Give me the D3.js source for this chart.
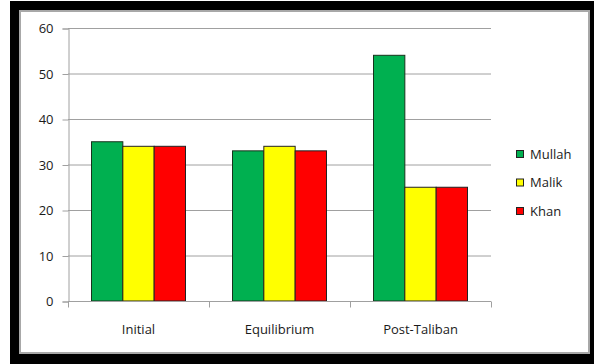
<!DOCTYPE html>
<html>
<head>
<meta charset="utf-8">
<script src="https://cdn.jsdelivr.net/npm/d3@7"></script>
<style>
  html, body { margin: 0; padding: 0; background: #fff; }
  svg { display: block; }
  text { font-family: "Open Sans", sans-serif; fill: #1a1a1a; }
</style>
</head>
<body>
<svg id="chart" width="594" height="364"></svg>
<script>
// Share of influence held by each group in each period
const categories = ["Initial", "Equilibrium", "Post-Taliban"];
const seriesNames = ["Mullah", "Malik", "Khan"];
const mullah = [35, 33, 54];
const malik  = [34, 34, 25];
const khan   = [34, 33, 25];
const yTicks = [0, 10, 20, 30, 40, 50, 60];
const colors = ["#00B050", "#FFFF00", "#FF0000"];
const strokes = ["#17331c", "#222", "#222"];
const FONT = "'Open Sans', sans-serif";

const values = [mullah, malik, khan];
const rows = categories.map((c, i) => ({
  category: c,
  items: seriesNames.map((s, j) => ({ series: s, value: values[j][i], idx: j }))
}));

const svg = d3.select("#chart");

// Outer black frame and inner panel
svg.append("rect").attr("x", 10).attr("y", 1).attr("width", 584).attr("height", 363).attr("fill", "#000");
svg.append("rect").attr("x", 19).attr("y", 10).attr("width", 571).attr("height", 344).attr("fill", "#a8a8a8");
svg.append("rect").attr("x", 21).attr("y", 12).attr("width", 567).attr("height", 340).attr("fill", "#fff");

const plot = { left: 68, right: 491, top: 28, bottom: 301 };

const x = d3.scaleBand().domain(categories).range([plot.left, plot.right]).padding(0);
const inner = d3.scaleBand().domain(seriesNames)
  .range([x.bandwidth() / 6, x.bandwidth() * 5 / 6]).padding(0);
const y = d3.scaleLinear().domain([0, 60]).range([plot.bottom, plot.top]);

// Horizontal gridlines
svg.append("g").selectAll("line").data(yTicks.filter(t => t > 0)).join("line")
  .attr("x1", plot.left).attr("x2", plot.right)
  .attr("y1", d => y(d) + 0.5).attr("y2", d => y(d) + 0.5)
  .attr("stroke", "#a0a0a0").attr("stroke-width", 1);

// Bars
const groups = svg.append("g").selectAll("g").data(rows).join("g")
  .attr("transform", d => `translate(${x(d.category)},0)`);
groups.selectAll("rect").data(d => d.items).join("rect")
  .attr("x", d => inner(d.series))
  .attr("y", d => y(d.value))
  .attr("width", inner.bandwidth())
  .attr("height", d => y(0) - y(d.value))
  .attr("fill", d => colors[d.idx])
  .attr("stroke", d => strokes[d.idx])
  .attr("stroke-width", 1);

// Y axis
const yAxis = svg.append("g")
  .attr("transform", `translate(${plot.left + 0.5},0.5)`)
  .call(d3.axisLeft(y).tickValues(yTicks).tickSize(6).tickPadding(9));
yAxis.select(".domain").attr("stroke", "#a0a0a0");
yAxis.selectAll(".tick line").attr("stroke", "#a0a0a0");
yAxis.selectAll(".tick text").attr("font-size", 13).attr("font-family", FONT).attr("fill", "#1a1a1a");

// X axis with ticks at category boundaries
const xAxisG = svg.append("g").attr("transform", `translate(0,${plot.bottom + 0.5})`);
xAxisG.append("line").attr("x1", plot.left).attr("x2", plot.right)
  .attr("stroke", "#a0a0a0");
const bounds = categories.map(c => x(c)).concat([x(categories[categories.length - 1]) + x.bandwidth()]);
xAxisG.selectAll("line.b").data(bounds).join("line").attr("class", "b")
  .attr("x1", d => d + 0.5).attr("x2", d => d + 0.5).attr("y1", 0).attr("y2", 6)
  .attr("stroke", "#a0a0a0");
xAxisG.selectAll("text").data(categories).join("text")
  .attr("x", d => x(d) + x.bandwidth() / 2)
  .attr("y", 32)
  .attr("text-anchor", "middle")
  .attr("font-size", 13)
  .text(d => d);

// Legend
const legend = svg.append("g").attr("transform", "translate(516,150)");
const li = legend.selectAll("g").data(seriesNames).join("g")
  .attr("transform", (d, i) => `translate(0,${i * 28.5})`);
li.append("rect").attr("x", 0.5).attr("y", 0.5).attr("width", 7).attr("height", 7)
  .attr("fill", (d, i) => colors[i]).attr("stroke", "#222");
li.append("text").attr("x", 14).attr("y", 8.5).attr("font-size", 13).text(d => d);
</script>
</body>
</html>
